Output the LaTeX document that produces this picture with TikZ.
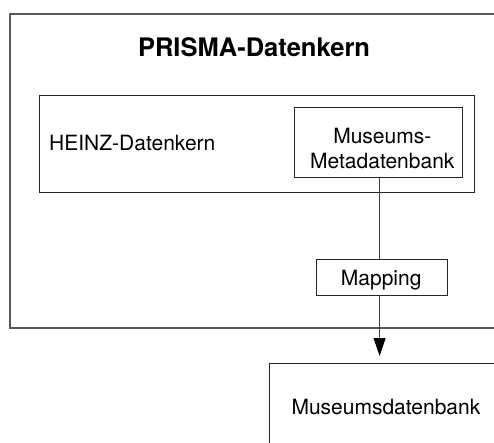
\documentclass[tikz,border=0pt]{standalone}
\usepackage{fontspec}
\setmainfont{TeX Gyre Heros}
\usetikzlibrary{arrows.meta}
\begin{document}
\begin{tikzpicture}[x=1pt,y=-1pt,
  box/.style={draw=black!85, line width=1pt, rectangle, inner sep=0pt, anchor=north west},
  lbl/.style={inner sep=0pt, font=\fontsize{21}{25}\selectfont},
  link/.style={draw=black!75, line width=1pt},
]
\useasboundingbox (0,0) rectangle (494,443);
\clip (0,0) rectangle (494,443);

% outer frame and its title
\node[box, draw=black!65, line width=1.6pt, minimum width=500pt, minimum height=314pt] (prisma) at (9,13) {};
\node[inner sep=0pt, font=\bfseries\fontsize{25.5}{30}\selectfont, anchor=base] (title) at (254,56.7) {PRISMA-Datenkern};

% HEINZ core with the metadata store inside
\node[box, minimum width=435pt, minimum height=97pt] (heinz) at (39,95) {};
\node[lbl, anchor=base west] (heinzlbl) at (49,151) {HEINZ-Datenkern};

\node[box, minimum width=168pt, minimum height=70pt] (meta) at (294,107) {};
\node[lbl, align=center, anchor=north] (metalbl) at (382.3,128.3) {Museums-\\Metadatenbank};

% mapping step
\node[box, minimum width=131pt, minimum height=36pt] (mapping) at (316,259) {};
\node[lbl, anchor=base] (mappinglbl) at (381.2,285) {Mapping};

% target database
\node[box, minimum width=240pt, minimum height=100pt] (mdb) at (269,363) {};
\node[lbl, anchor=base] (mdblbl) at (385.9,414.3) {Museumsdatenbank};

% connectors
\coordinate (lx) at (379.6,0);
\draw[link] (meta.south -| lx) -- (mapping.north -| lx);
\draw[link, -{Triangle[length=18pt,width=12pt,color=black]}, shorten >=7pt] (mapping.south -| lx) -- (mdb.north -| lx);
\end{tikzpicture}
\end{document}
